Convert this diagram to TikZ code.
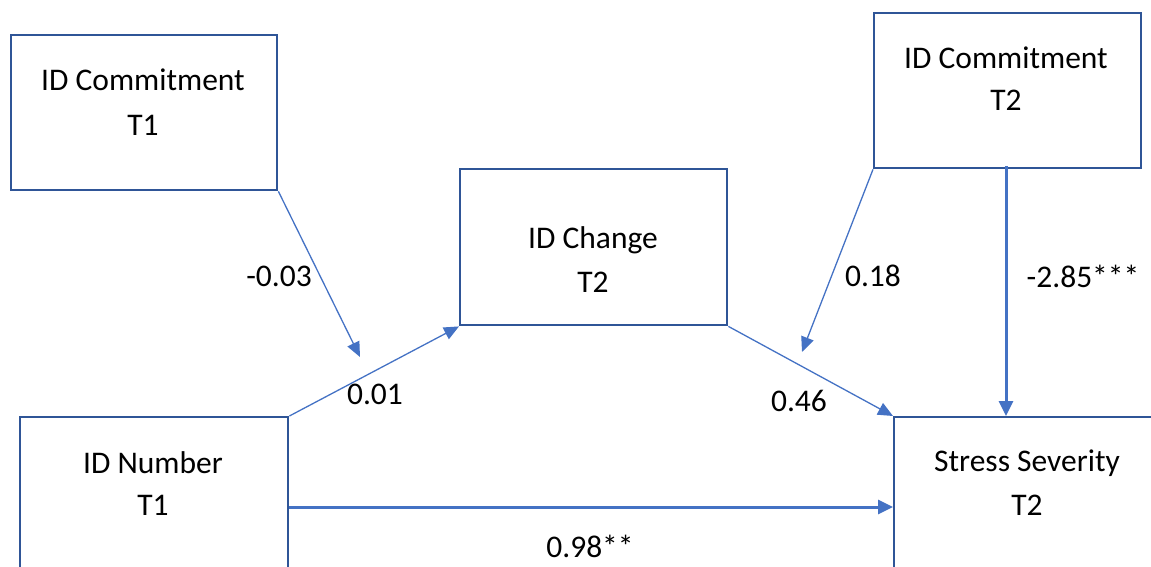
\documentclass[tikz,border=0pt]{standalone}
\usepackage{fontspec}
\setmainfont{Carlito}
\usetikzlibrary{arrows.meta}
\begin{document}
\definecolor{boxblue}{RGB}{47,85,151}
\definecolor{arrblue}{RGB}{68,114,196}
\tikzset{
  box/.style={draw=boxblue, line width=2.4pt, fill=white, rectangle, inner sep=0pt},
  txt/.style={font=\fontsize{31.5}{36}\selectfont, text=black, align=center, inner sep=0pt},
  thin arrow/.style={draw=arrblue, line width=1.3pt, -{Triangle[length=15pt,width=13pt]}},
  thick arrow/.style={draw=arrblue, line width=3pt, -{Triangle[length=15pt,width=14pt]}},
}
\begin{tikzpicture}[x=1pt,y=-1pt]
\useasboundingbox (0,0) rectangle (1151,567);
% boxes
\node[box, minimum width=266pt, minimum height=155pt, anchor=north west] (c1) at (10,34) {};
\node[box, minimum width=267pt, minimum height=156pt, anchor=north west] (ch) at (459,168) {};
\node[box, minimum width=267pt, minimum height=155pt, anchor=north west] (c2) at (873,12) {};
\node[box, minimum width=268pt, minimum height=200pt, anchor=north west] (nu) at (19,416) {};
\node[box, minimum width=300pt, minimum height=200pt, anchor=north west] (ss) at (893,416) {};
% box texts
\node[txt] (c1a) at (143,80) {ID Commitment};
\node[txt] (c1b) at (143,125) {T1};
\node[txt] (cha) at (593,240) {ID Change};
\node[txt] (chb) at (593,282) {T2};
\node[txt] (c2a) at (1006,58) {ID Commitment};
\node[txt] (c2b) at (1006,100) {T2};
\node[txt] (nua) at (153,463) {ID Number};
\node[txt] (nub) at (153,505) {T1};
\node[txt] (ssa) at (1027,463) {Stress Severity};
\node[txt] (ssb) at (1027,505) {T2};
% free ends
\coordinate (m1) at (360,357);
\coordinate (m2) at (802,352);
% connectors
\draw[thin arrow] (c1.south east) -- (m1);
\draw[thin arrow] (nu.north east) -- (ch.south west);
\draw[thin arrow] (ch.south east) -- (ss.north west);
\draw[thin arrow] (c2.south west) -- (m2);
\draw[thick arrow] ([xshift=133pt,yshift=3pt]c2.south west) -- ([xshift=113pt]ss.north west);
\draw[thick arrow] ([yshift=-91pt]nu.north east) -- ([yshift=-91pt]ss.north west);
% labels
\node[txt] (l1) at (279,276) {-0.03};
\node[txt] (l2) at (375,394) {0.01};
\node[txt] (l3) at (799,401) {0.46};
\node[txt] (l4) at (873,276) {0.18};
\node[txt] (l5) at (1083,276) {-2.85***};
\node[txt] (l6) at (590,546) {0.98**};
\end{tikzpicture}
\end{document}
